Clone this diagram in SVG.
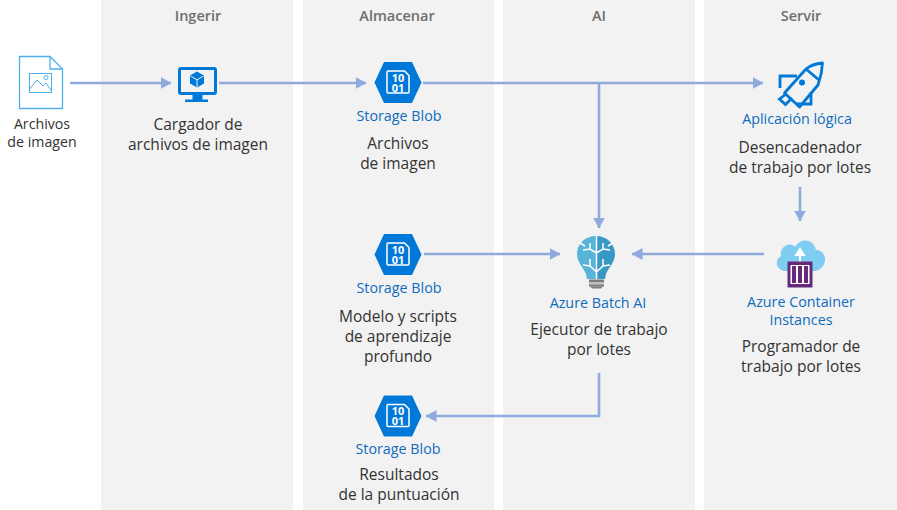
<svg xmlns="http://www.w3.org/2000/svg" width="897" height="510" viewBox="0 0 897 510">
<style>
text{font-family:"Open Sans","Noto Sans","Liberation Sans",sans-serif;text-anchor:middle}
.p{fill:#f2f2f2}
.h{font-size:14.5px;font-weight:600;fill:#6e6e6e}
.t{font-size:15.5px;fill:#333}
.s{font-size:14.2px;fill:#333}
.b{font-size:14.300px;fill:#0f6cbd}
.c{fill:none;stroke:#8faadc;stroke-width:2.600}
.hex{fill:#0078d7}
.n{font-size:11px;font-weight:700;fill:#fff}
</style>
<defs>
<marker id="a" markerUnits="userSpaceOnUse" markerWidth="11" markerHeight="12" refX="10.500" refY="6" orient="auto"><path d="M0 0L11 6L0 12Z" fill="#8faadc"/></marker>
<g id="blob">
<path class="hex" d="M-14 -20.500H14L23.500 0L14 20.500H-14L-23.500 0Z"/>
<path d="M-10 -11.500H6.500L11 -7V9.500Q11 10.500 10 10.500H-10Q-11 10.500 -11 9.500V-10.500Q-11 -11.500 -10 -11.500Z" fill="none" stroke="#fff" stroke-width="1.500"/>
<text class="n" y="-1">10</text>
<text class="n" y="9">01</text>
</g>
</defs>
<g id="panels">
<rect class="p" x="101" y="0" width="192" height="510"/>
<rect class="p" x="303" y="0" width="191" height="510"/>
<rect class="p" x="503" y="0" width="192" height="510"/>
<rect class="p" x="704" y="0" width="193" height="510"/>
<text class="h" x="198" y="21">Ingerir</text>
<text class="h" x="397" y="21">Almacenar</text>
<text class="h" x="599" y="21">AI</text>
<text class="h" x="801" y="21">Servir</text>
</g>
<g id="connectors">
<path class="c" marker-end="url(#a)" d="M70 83H171"/>
<path class="c" marker-end="url(#a)" d="M219 83H366"/>
<path class="c" marker-end="url(#a)" d="M423 83H763"/>
<path class="c" marker-end="url(#a)" d="M599 83V228"/>
<path class="c" marker-end="url(#a)" d="M424 254H560"/>
<path class="c" marker-end="url(#a)" d="M764 254H632"/>
<path class="c" marker-end="url(#a)" d="M800 187V221"/>
<path class="c" marker-end="url(#a)" d="M599 373V416H426"/>
</g>
<g id="archivos">
<path d="M19.500 56.500H50L62.500 69V108.500H19.500Z" fill="#fff" stroke="#50b0e8" stroke-width="1.300"/>
<path d="M50 56.500V69H62.500" fill="none" stroke="#50b0e8" stroke-width="1.300"/>
<rect x="29.500" y="73.500" width="22" height="19" fill="none" stroke="#50b0e8"/>
<path d="M29.500 89L37 80L43 86L46 83L51.500 91" fill="none" stroke="#50b0e8"/>
<circle cx="46" cy="77.500" r="2" fill="none" stroke="#50b0e8"/>
<text class="s" x="42" y="129">Archivos</text>
<text class="s" x="42" y="147">de imagen</text>
</g>
<g id="cargador">
<rect x="179.500" y="68.500" width="36" height="25" rx="1.500" fill="none" stroke="#0078d7" stroke-width="3"/>
<path d="M197 71.500L204 75.500V83.500L197 87.500L190 83.500V75.500Z" fill="#0078d7"/>
<path d="M190.500 76L197 79.800L203.500 76M197 79.800V87" fill="none" stroke="#f2f2f2"/>
<path d="M192.500 95H202.500V99.500H208V102H185V99.500H192.500Z" fill="#0078d7"/>
<text class="t" x="198" y="130">Cargador de</text>
<text class="t" x="198" y="150">archivos de imagen</text>
</g>
<g id="blob1">
<use href="#blob" x="398" y="82.500"/>
<text class="b" x="399" y="121">Storage Blob</text>
<text class="t" x="398" y="149">Archivos</text>
<text class="t" x="398" y="169">de imagen</text>
</g>
<g id="blob2">
<use href="#blob" x="398" y="254.500"/>
<text class="b" x="399" y="293">Storage Blob</text>
<text class="t" x="398" y="322">Modelo y scripts</text>
<text class="t" x="398" y="342">de aprendizaje</text>
<text class="t" x="398" y="362">profundo</text>
</g>
<g id="blob3">
<use href="#blob" x="398" y="416"/>
<text class="b" x="398" y="454">Storage Blob</text>
<text class="t" x="399" y="480">Resultados</text>
<text class="t" x="399" y="500">de la puntuación</text>
</g>
<g id="batchai">
<path d="M596 236C585 236 577 244 577 254C577 262 583 267 586 274L587 279H596Z" fill="#59b4d9"/>
<path d="M596 236C607 236 615 244 615 254C615 262 609 267 606 274L605 279H596Z" fill="#3999c6"/>
<path d="M596.500 236V279M596.500 253L590 249L583 250M590 249L590 243M596.500 253L603 249L610 250M603 249L603 243M596.500 272L590 266L583 265M590 266L590 259M596.500 272L603 266L610 265M603 266L603 259M580 243L585 246M613 243L608 246" fill="none" stroke="#fff" stroke-width="1.500"/>
<rect x="589" y="279.500" width="15" height="2.500" fill="#7a7a7a"/>
<rect x="589" y="282" width="15" height="2.500" fill="#bdbdbd"/>
<rect x="589" y="284.500" width="15" height="2" fill="#7a7a7a"/>
<path d="M590 286.500H603L601 288.500H592Z" fill="#7a7a7a"/>
<text class="b" x="598" y="308">Azure Batch AI</text>
<text class="t" x="599" y="335">Ejecutor de trabajo</text>
<text class="t" x="599" y="355">por lotes</text>
</g>
<g id="logicapp">
<path d="M822.500 63Q812 64 806 69L784.500 93L799.500 107L818 85Q822 74 822.500 63Z" fill="none" stroke="#0078d7" stroke-width="2.800" stroke-linejoin="round"/>
<path d="M797 76H780V88M811 92V104H796M786 94L779.500 99L785.500 104.500L792 98M806 69L819 80" fill="none" stroke="#0078d7" stroke-width="2.800"/>
<circle cx="802" cy="82.500" r="3" fill="#0078d7"/>
<text class="b" x="797" y="124">Aplicación lógica</text>
<text class="t" x="800" y="153">Desencadenador</text>
<text class="t" x="800" y="173">de trabajo por lotes</text>
</g>
<g id="aci">
<path d="M786 271C777 271 773 261 781 256C779 247 790 241 795 247C800 238 813 238 816 250C825 250 829 262 820 269L816 271Z" fill="#7fcdf2"/>
<path d="M800 263V255M796 255L800 249L804 255Z" fill="#fff" stroke="#fff" stroke-width="2"/>
<rect x="788" y="262" width="24" height="25" fill="#672a7a" stroke="#672a7a"/>
<rect x="790.500" y="265" width="19" height="19" fill="#fff"/>
<path d="M792 266H796V283H792ZM798 266H802V283H798ZM804 266H808V283H804Z" fill="#672a7a"/>
<text class="b" x="801" y="307">Azure Container</text>
<text class="b" x="801" y="325">Instances</text>
<text class="t" x="801" y="352">Programador de</text>
<text class="t" x="801" y="372">trabajo por lotes</text>
</g>
</svg>
